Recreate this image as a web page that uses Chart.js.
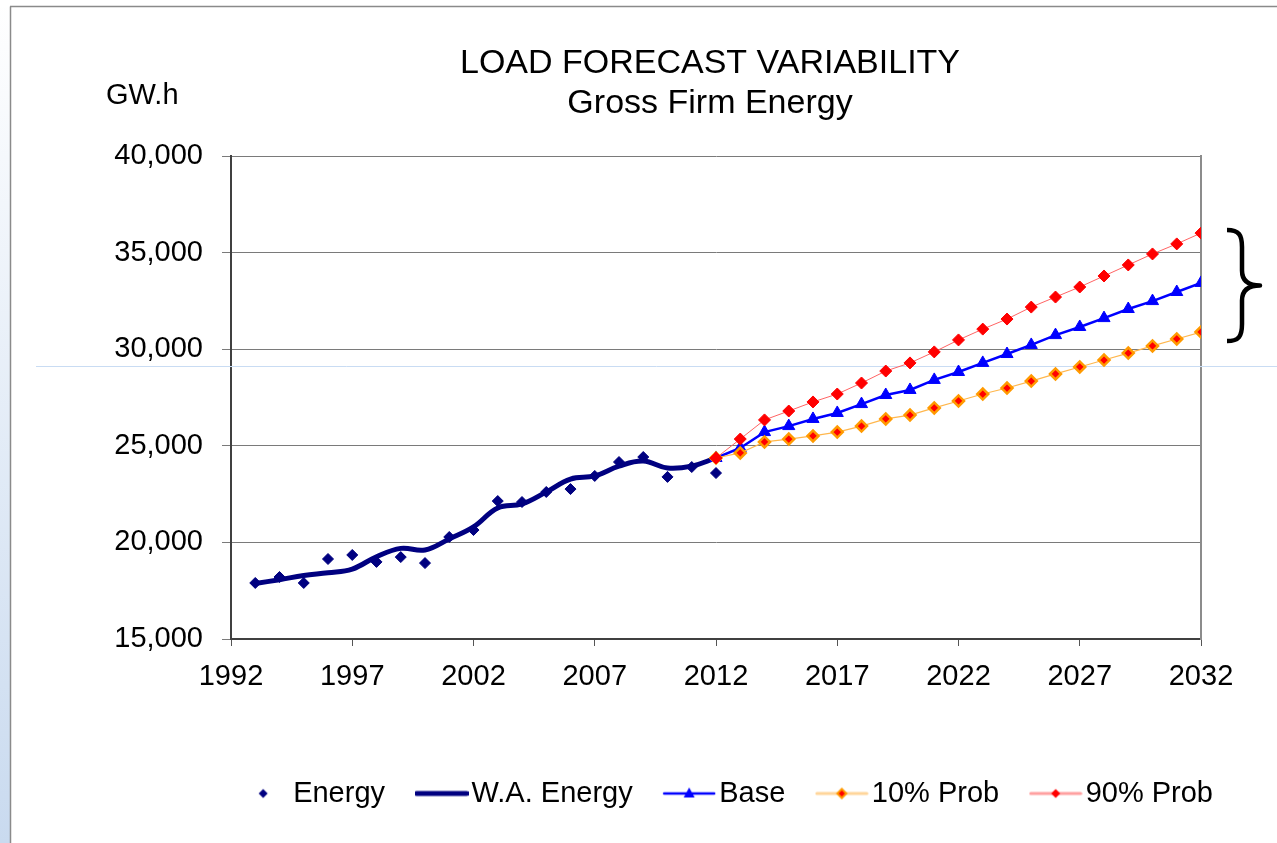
<!DOCTYPE html>
<html><head><meta charset="utf-8">
<script src="https://cdn.jsdelivr.net/npm/chart.js@4.4.1/dist/chart.umd.min.js"></script>
<style>html,body{margin:0;padding:0;background:#fff;overflow:hidden}canvas{display:block}</style>
</head><body>
<canvas id="c" width="1277" height="843" style="width:1277px;height:843px"></canvas>
<script>
const titleLines = ['LOAD FORECAST VARIABILITY', 'Gross Firm Energy'];
const unitLabel = 'GW.h';
const xTickValues = [1992, 1997, 2002, 2007, 2012, 2017, 2022, 2027, 2032];
const yTickValues = [15000, 20000, 25000, 30000, 35000, 40000];
const seriesNames = ['Energy', 'W.A. Energy', 'Base', '10% Prob', '90% Prob'];

const historyYears = [1993, 1994, 1995, 1996, 1997, 1998, 1999, 2000, 2001, 2002,
                      2003, 2004, 2005, 2006, 2007, 2008, 2009, 2010, 2011, 2012];
const energyValues = [17900, 18210, 17900, 19140, 19350, 18990, 19240, 18930, 20280, 20640,
                      22140, 22090, 22610, 22760, 23440, 24160, 24420, 23390, 23900, 23590];
const waEnergyValues = [17870, 18070, 18290, 18430, 18620, 19260, 19690, 19610, 20180, 20800,
                        21780, 21990, 22610, 23280, 23440, 23950, 24210, 23850, 23950, 24370];

const forecastYears = [2012, 2013, 2014, 2015, 2016, 2017, 2018, 2019, 2020, 2021, 2022,
                       2023, 2024, 2025, 2026, 2027, 2028, 2029, 2030, 2031, 2032];
const baseValues = [24370, 24890, 25710, 26020, 26390, 26700, 27160, 27630, 27890, 28410, 28820,
                    29290, 29750, 30220, 30730, 31150, 31610, 32080, 32490, 32960, 33430];
const prob10Values = [24370, 24630, 25200, 25350, 25510, 25710, 26020, 26390, 26590, 26960, 27320,
                      27680, 27990, 28350, 28720, 29080, 29440, 29800, 30170, 30530, 30890];
const prob90Values = [24370, 25350, 26340, 26800, 27270, 27680, 28250, 28870, 29290, 29860, 30480,
                      31040, 31560, 32180, 32700, 33220, 33790, 34360, 34930, 35450, 36010];

const braceRange = [36170, 30420];

const FONT = "'Liberation Sans', Arial, Helvetica, sans-serif";
Chart.defaults.font.family = FONT;
Chart.defaults.color = '#000';

const pts = (xs, ys) => xs.map((x, i) => ({x: x, y: ys[i]}));

function diamond(g, x, y, r) {
  g.beginPath(); g.moveTo(x, y - r); g.lineTo(x + r, y); g.lineTo(x, y + r); g.lineTo(x - r, y); g.closePath();
}
function makeIcon(kind) {
  const c = document.createElement('canvas'); c.width = 54; c.height = 20;
  const g = c.getContext('2d'); const cy = 10;
  const line = (col, w) => { g.strokeStyle = col; g.lineWidth = w; g.lineCap = 'round'; g.beginPath(); g.moveTo(2, cy); g.lineTo(52, cy); g.stroke(); };
  if (kind === 0) { diamond(g, 27, cy, 4.5); g.fillStyle = '#000080'; g.fill(); }
  if (kind === 1) { line('#000080', 5); }
  if (kind === 2) { line('#0000FF', 2.5); g.fillStyle = '#0000FF'; g.beginPath(); g.moveTo(27, cy - 6); g.lineTo(32.5, cy + 4); g.lineTo(21.5, cy + 4); g.closePath(); g.fill(); }
  if (kind === 3) { line('#FFD59A', 3); diamond(g, 27, cy, 4.5); g.fillStyle = '#FF0000'; g.fill(); g.strokeStyle = '#FF9900'; g.lineWidth = 2; g.stroke(); }
  if (kind === 4) { line('#FFA0A0', 3); diamond(g, 27, cy, 4.5); g.fillStyle = '#FF0000'; g.fill(); }
  return c;
}
const legendIcons = [0, 1, 2, 3, 4].map(makeIcon);

const decorPlugin = {
  id: 'decor',
  beforeDraw(chart) {
    const {ctx, width: w, height: h} = chart;
    ctx.save();
    ctx.fillStyle = '#fff'; ctx.fillRect(0, 0, w, h);
    const grad = ctx.createLinearGradient(0, 0, 0, h);
    grad.addColorStop(0, '#ffffff'); grad.addColorStop(1, '#c9daef');
    ctx.fillStyle = grad; ctx.fillRect(0, 7, 10, h);
    ctx.strokeStyle = '#8a8a8a'; ctx.lineWidth = 1.5;
    ctx.beginPath(); ctx.moveTo(10.5, 6.5); ctx.lineTo(10.5, h); ctx.moveTo(10, 6.5); ctx.lineTo(w, 6.5); ctx.stroke();
    ctx.restore();
  },
  beforeDatasetsDraw(chart) {
    const {ctx, width: w} = chart;
    ctx.save(); ctx.strokeStyle = '#c9dcf3'; ctx.lineWidth = 1;
    ctx.beginPath(); ctx.moveTo(36, 366.5); ctx.lineTo(w, 366.5); ctx.stroke(); ctx.restore();
  },
  afterDraw(chart) {
    const {ctx, chartArea: a} = chart;
    const ys = chart.scales.y;
    ctx.save();
    ctx.fillStyle = '#000';
    ctx.textAlign = 'center'; ctx.textBaseline = 'alphabetic';
    ctx.font = '34px ' + FONT;
    ctx.fillText(titleLines[0], 710, 73);
    ctx.fillText(titleLines[1], 710, 113);
    ctx.textAlign = 'left'; ctx.font = '29px ' + FONT;
    ctx.fillText(unitLabel, 106, 104);
    // brace
    const top = ys.getPixelForValue(braceRange[0]);
    const bot = ys.getPixelForValue(braceRange[1]);
    const mid = (top + bot) / 2;
    const xL = a.right + 26, xV = a.right + 41, xP = a.right + 59;
    ctx.strokeStyle = '#000'; ctx.lineWidth = 4.5; ctx.lineJoin = 'round'; ctx.lineCap = 'butt';
    ctx.beginPath();
    ctx.moveTo(xL, top);
    ctx.bezierCurveTo(xV - 3, top, xV, top + 5, xV, top + 17);
    ctx.lineTo(xV, mid - 15);
    ctx.bezierCurveTo(xV, mid - 4, xV + 7, mid, xP, mid);
    ctx.bezierCurveTo(xV + 7, mid, xV, mid + 4, xV, mid + 15);
    ctx.lineTo(xV, bot - 17);
    ctx.bezierCurveTo(xV, bot - 5, xV - 3, bot, xL, bot);
    ctx.stroke();
    ctx.restore();
  }
};

new Chart(document.getElementById('c'), {
  type: 'scatter',
  data: {
    datasets: [
      { label: seriesNames[0], data: pts(historyYears, energyValues), showLine: false,
        pointStyle: 'rectRot', pointRadius: 5.5, pointBackgroundColor: '#000080', pointBorderColor: '#000080',
        pointBorderWidth: 1, borderColor: '#000080', backgroundColor: '#000080', order: 3 },
      { label: seriesNames[1], data: pts(historyYears, waEnergyValues), showLine: true,
        borderColor: '#000080', backgroundColor: '#000080', borderWidth: 5, pointRadius: 0,
        tension: 0.4, borderCapStyle: 'round', borderJoinStyle: 'round', order: 4 },
      { label: seriesNames[2], data: pts(forecastYears, baseValues), showLine: true,
        borderColor: '#0000FF', backgroundColor: '#0000FF', borderWidth: 2.5,
        pointStyle: 'triangle', pointRadius: 7, pointBackgroundColor: '#0000FF', pointBorderColor: '#0000FF',
        pointBorderWidth: 1, order: 2 },
      { label: seriesNames[3], data: pts(forecastYears, prob10Values), showLine: true,
        borderColor: '#FFB74D', backgroundColor: '#FF0000', borderWidth: 1.2,
        pointStyle: 'rectRot', pointRadius: 5.5, pointBackgroundColor: '#FF0000', pointBorderColor: '#FF9A00',
        pointBorderWidth: 2.5, order: 1 },
      { label: seriesNames[4], data: pts(forecastYears, prob90Values), showLine: true,
        borderColor: '#FF6464', backgroundColor: '#FF0000', borderWidth: 1,
        pointStyle: 'rectRot', pointRadius: 6, pointBackgroundColor: '#FF0000', pointBorderColor: '#FF0000',
        pointBorderWidth: 1, order: 0 }
    ]
  },
  options: {
    responsive: false, animation: false, devicePixelRatio: 1,
    layout: { padding: { top: 156, left: 10, right: 23, bottom: 25 } },
    plugins: {
      title: { display: false },
      tooltip: { enabled: false },
      legend: {
        position: 'bottom', align: 'end',
        labels: {
          usePointStyle: true, pointStyleWidth: 31, padding: 41, color: '#000',
          font: { size: 29, family: FONT },
          generateLabels(chart) {
            return chart.data.datasets.map((ds, i) => ({
              text: ds.label, pointStyle: legendIcons[i], fillStyle: 'transparent',
              strokeStyle: 'transparent', lineWidth: 0, hidden: false, datasetIndex: i, fontColor: '#000'
            }));
          }
        }
      }
    },
    scales: {
      x: {
        type: 'linear', min: 1992, max: 2032,
        afterBuildTicks: (s) => { s.ticks = xTickValues.map(v => ({value: v})); },
        afterFit: (s) => { s.height = 99; },
        ticks: { autoSkip: false, maxRotation: 0, padding: 14, color: '#000',
                 font: { size: 29, family: FONT }, callback: (v) => String(v) },
        grid: { display: true, drawOnChartArea: false, drawTicks: true, tickLength: 7, color: '#555', lineWidth: 1 },
        border: { display: true, color: '#404040', width: 2 }
      },
      y: {
        type: 'linear', min: 15000, max: 40000,
        afterBuildTicks: (s) => { s.ticks = yTickValues.map(v => ({value: v})); },
        afterFit: (s) => { s.width = 221; },
        ticks: { padding: 19, color: '#000', font: { size: 29, family: FONT },
                 callback: (v) => Number(v).toLocaleString('en-US') },
        grid: { color: '#7a7a7a', lineWidth: 1, tickLength: 9, drawTicks: true },
        border: { display: true, color: '#404040', width: 2 }
      },
      y2: {
        type: 'linear', position: 'right', display: true,
        afterFit: (s) => { s.width = 53; },
        ticks: { display: false },
        grid: { display: false },
        border: { display: true, color: '#8c8c8c', width: 2 }
      }
    }
  },
  plugins: [decorPlugin]
});
</script>
</body></html>
